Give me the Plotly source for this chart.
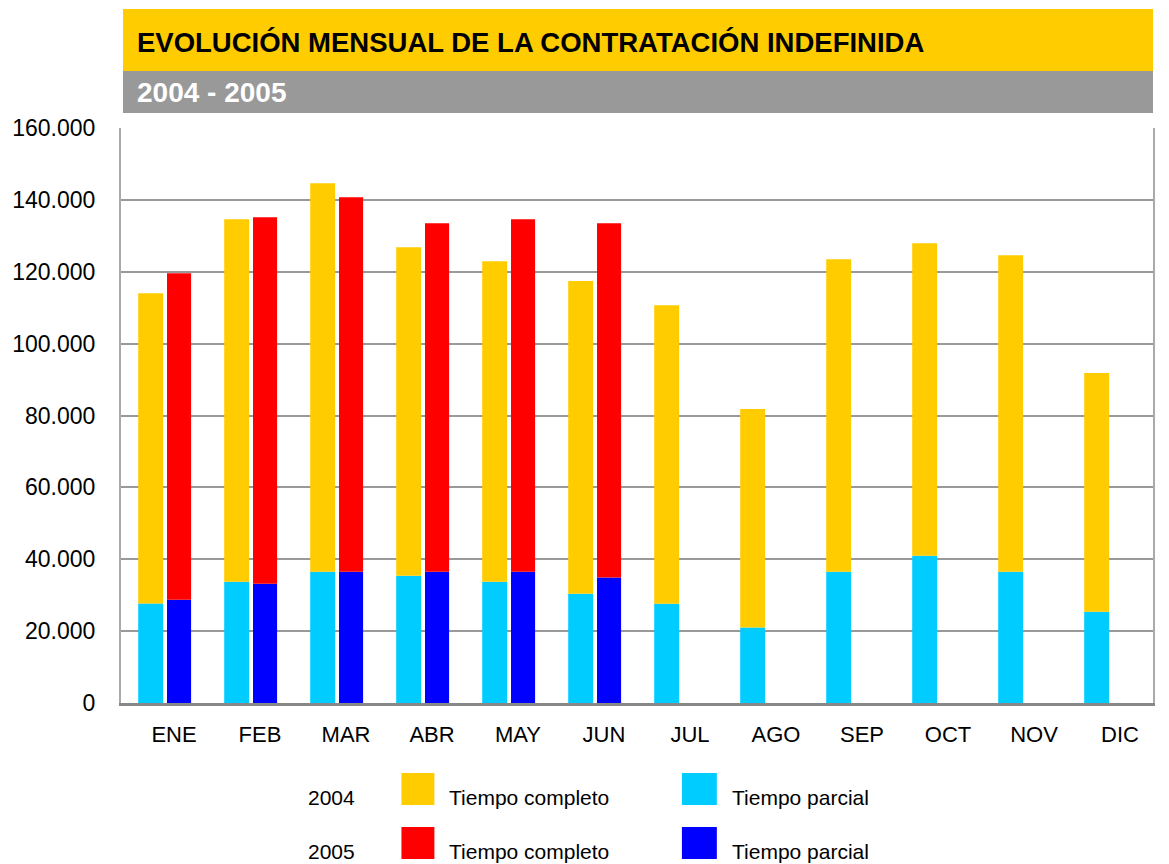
import plotly.graph_objects as go

months = ["ENE", "FEB", "MAR", "ABR", "MAY", "JUN", "JUL", "AGO", "SEP", "OCT", "NOV", "DIC"]
months_2005 = ["ENE", "FEB", "MAR", "ABR", "MAY", "JUN"]

parcial_2004 = [27700, 33750, 36500, 35400, 33750, 30400, 27650, 21000, 36500, 41000, 36500, 25400]
completo_2004 = [86300, 100850, 108100, 91400, 89150, 87000, 83050, 60800, 87000, 86900, 88100, 66400]
parcial_2005 = [28750, 33200, 36500, 36500, 36500, 34900]
completo_2005 = [90850, 101950, 104200, 97000, 98100, 98600]

y_ticks = [0, 20000, 40000, 60000, 80000, 100000, 120000, 140000, 160000]

C_Y = "#FFCC00"
C_C = "#00CCFF"
C_R = "#FF0000"
C_B = "#0000FF"

fig = go.Figure()
fig.add_bar(x=months, y=parcial_2004, marker_color=C_C, marker_line_width=0,
            offset=-0.30, width=0.29, name="2004 Tiempo parcial")
fig.add_bar(x=months, y=completo_2004, base=parcial_2004, marker_color=C_Y, marker_line_width=0,
            offset=-0.30, width=0.29, name="2004 Tiempo completo")
fig.add_bar(x=months_2005, y=parcial_2005, marker_color=C_B, marker_line_width=0,
            offset=0.035, width=0.28, name="2005 Tiempo parcial")
fig.add_bar(x=months_2005, y=completo_2005, base=parcial_2005, marker_color=C_R, marker_line_width=0,
            offset=0.035, width=0.28, name="2005 Tiempo completo")

W, H = 1169, 864
L, R, T, B = 119, 16, 128, 161
PW, PH = W - L - R, H - T - B

def px(x):
    return (x - L) / PW

def py(y):
    return (H - B - y) / PH

TITLE_FONT = "Liberation Sans, Arial, sans-serif"

shapes = [
    dict(type="rect", xref="paper", yref="paper", x0=px(121), x1=px(1153), y0=py(71), y1=py(9),
         fillcolor="#FFCC00", line_width=0, layer="below"),
    dict(type="rect", xref="paper", yref="paper", x0=px(121), x1=px(1153), y0=py(113), y1=py(71),
         fillcolor="#999999", line_width=0, layer="below"),
]
annotations = [
    dict(text="<b>EVOLUCIÓN MENSUAL DE LA CONTRATACIÓN INDEFINIDA</b>", xref="paper", yref="paper",
         x=px(133), y=py(42), xanchor="left", yanchor="middle", showarrow=False,
         font=dict(family=TITLE_FONT, size=27.5, color="black")),
    dict(text="<b>2004 - 2005</b>", xref="paper", yref="paper",
         x=px(133), y=py(93), xanchor="left", yanchor="middle", showarrow=False,
         font=dict(family=TITLE_FONT, size=28, color="white")),
]

legend_rows = [("2004", C_Y, C_C, 789), ("2005", C_R, C_B, 843)]
for year, c1, c2, yc in legend_rows:
    shapes.append(dict(type="rect", xref="paper", yref="paper", x0=px(400), x1=px(433),
                       y0=py(yc + 16), y1=py(yc - 16), fillcolor=c1, line_width=0))
    shapes.append(dict(type="rect", xref="paper", yref="paper", x0=px(681), x1=px(716),
                       y0=py(yc + 16), y1=py(yc - 16), fillcolor=c2, line_width=0))
    for txt, xx in [(year, 304), ("Tiempo completo", 446), ("Tiempo parcial", 729)]:
        annotations.append(dict(text=txt, xref="paper", yref="paper", x=px(xx), y=py(yc + 8),
                                xanchor="left", yanchor="middle", showarrow=False,
                                font=dict(family="Liberation Sans, Arial, sans-serif",
                                          size=21, color="black")))

fig.update_layout(
    width=W, height=H,
    margin=dict(l=L, r=R, t=T, b=B),
    paper_bgcolor="white", plot_bgcolor="white",
    barmode="overlay", showlegend=False,
    separators=",.",
    shapes=shapes, annotations=annotations,
    font=dict(family="Liberation Sans, Arial, sans-serif", color="black"),
)
fig.update_xaxes(type="category", categoryorder="array", categoryarray=months,
                 showline=True, linecolor="#888888", linewidth=3, showgrid=False,
                 ticks="", ticklabelstandoff=10, ticklabelshift=10,
                 tickfont=dict(size=22, family="Liberation Sans, Arial, sans-serif"))
fig.update_yaxes(range=[0, 160000], tickvals=y_ticks, tickformat=",d",
                 showgrid=True, gridcolor="#999999", gridwidth=2,
                 showline=True, linecolor="#AAAAAA", linewidth=2, mirror=True,
                 zeroline=False, ticks="", ticklabelstandoff=19,
                 tickfont=dict(size=23, family="Liberation Sans, Arial, sans-serif"))

fig.write_html("out.html", config={"displayModeBar": False},
               post_script="document.body.style.margin='0px';")
